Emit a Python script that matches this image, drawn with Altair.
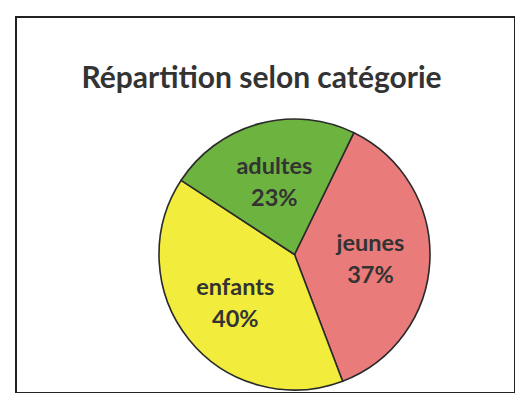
import math
import altair as alt
import pandas as pd

categories = ["jeunes", "enfants", "adultes"]
percents = [37, 40, 23]
colors = ["#e97b7b", "#f2ec3c", "#6db33f"]
title_text = "Répartition selon catégorie"

df = pd.DataFrame({"cat": categories, "pct": percents, "order": list(range(len(categories)))})

start = math.radians(26)
theta_scale = alt.Scale(range=[start, start + 2 * math.pi])
cx, cy = 278.5, 237.5

base = alt.Chart(df).encode(
    theta=alt.Theta("pct:Q", stack=True, scale=theta_scale),
    order=alt.Order("order:Q"),
)

arcs = base.mark_arc(outerRadius=135.5, stroke="#2b2b2b", strokeWidth=1.6).encode(
    color=alt.Color("cat:N", scale=alt.Scale(domain=categories, range=colors), legend=None),
    x=alt.value(cx),
    y=alt.value(cy),
)

labels = base.transform_calculate(
    label="datum.cat + '\\n' + datum.pct + '%'"
).mark_text(
    radius=76, font="Lato", fontWeight="bold", fontSize=23.5, color="#333333",
    lineBreak="\n", lineHeight=32, align="center", baseline="middle", dy=-14,
).encode(
    text="label:N",
    x=alt.value(cx),
    y=alt.value(cy),
)

chart = alt.layer(arcs, labels).properties(
    width=499,
    height=376,
    autosize=alt.AutoSizeParams(type="none"),
    padding={"left": 8, "top": 9, "right": 0, "bottom": 0},
    background="white",
    title=alt.TitleParams(
        title_text, font="Lato", fontWeight="bold", fontSize=30, color="#333333",
        anchor="middle", offset=-101, baseline="alphabetic", dx=-4,
    ),
).configure_view(stroke="#222222", strokeWidth=2)

chart.save("out.html", embed_options={"renderer": "svg", "actions": False})
